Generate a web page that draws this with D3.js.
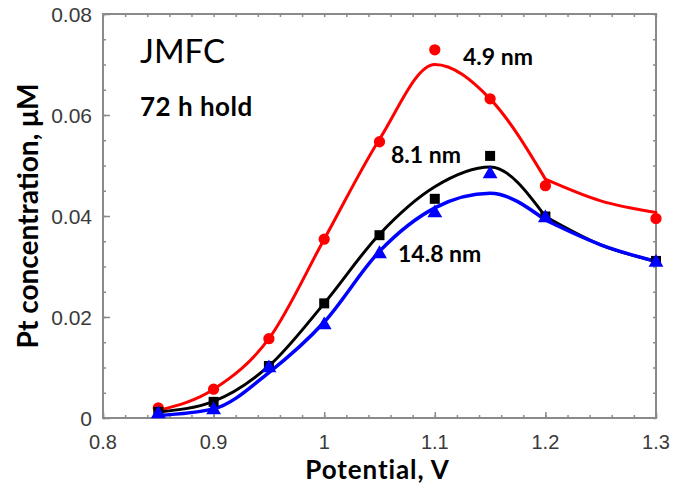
<!DOCTYPE html>
<html>
<head>
<meta charset="utf-8">
<script src="https://cdn.jsdelivr.net/npm/d3@7"></script>
<style>
  html, body { margin: 0; padding: 0; background: #fff; }
  svg { display: block; }
</style>
</head>
<body>
<svg id="chart" width="673" height="491"></svg>
<script>
// Measured points: potential (V) vs dissolved Pt (µM) after 72 h hold
const potential = [0.85, 0.9, 0.95, 1.0, 1.05, 1.1, 1.15, 1.2, 1.3];
const pt49  = [0.0020, 0.0057, 0.0157, 0.0354, 0.0547, 0.0729, 0.0632, 0.0460, 0.0395];
const pt81  = [0.0012, 0.0032, 0.0103, 0.0227, 0.0362, 0.0434, 0.0519, 0.0399, 0.0311];
const pt148 = [0.0008, 0.0016, 0.0099, 0.0184, 0.0325, 0.0406, 0.0483, 0.0396, 0.0308];

// Fitted trend curves, sampled along the potential axis
const fitPotential = [0.85, 0.9, 0.95, 1.0, 1.05, 1.1, 1.15, 1.2, 1.25, 1.3];
const fit49  = [0.0015, 0.0057, 0.0157, 0.0354, 0.0552, 0.0700, 0.0632, 0.0473, 0.0430, 0.0407];
const fit81  = [0.0012, 0.0033, 0.0103, 0.0227, 0.0364, 0.0458, 0.0497, 0.0399, 0.0343, 0.0310];
const fit148 = [0.0005, 0.0018, 0.0090, 0.0190, 0.0330, 0.0416, 0.0445, 0.0392, 0.0343, 0.0310];
const fitBreak = 1.2;   // the fits change regime here

const xTicks = [0.8, 0.9, 1.0, 1.1, 1.2, 1.3];
const xTickLabels = ["0.8", "0.9", "1", "1.1", "1.2", "1.3"];
const yTicks = [0, 0.02, 0.04, 0.06, 0.08];
const yTickLabels = ["0", "0.02", "0.04", "0.06", "0.08"];

const seriesLabels = ["4.9 nm", "8.1 nm", "14.8 nm"];

const svg = d3.select("#chart");
const m = { left: 103, top: 14, right: 656, bottom: 418 };

const x = d3.scaleLinear().domain([0.8, 1.3]).range([m.left, m.right]);
const y = d3.scaleLinear().domain([0, 0.08]).range([m.bottom, m.top]);

const axisColor = "#8a8a8a";
const tickFont = "'Liberation Sans', Arial, sans-serif";
const labelFont = "Lato, 'Open Sans', sans-serif";

// Frame with inward ticks on all four sides
const minorX = d3.range(0.8, 1.3001, 0.02);
const minorY = d3.range(0, 0.08001, 0.005);

function styleAxis(g) {
  g.select(".domain").remove();
  g.selectAll(".tick line").attr("stroke", axisColor).attr("stroke-width", 1.5);
  g.selectAll(".tick text").remove();
}

svg.append("g").attr("transform", `translate(0,${m.bottom})`)
  .call(d3.axisBottom(x).tickValues(minorX).tickSizeInner(-3).tickSizeOuter(0)).call(styleAxis);
svg.append("g").attr("transform", `translate(0,${m.bottom})`)
  .call(d3.axisBottom(x).tickValues(xTicks).tickSizeInner(-6).tickSizeOuter(0)).call(styleAxis);
svg.append("g").attr("transform", `translate(0,${m.top})`)
  .call(d3.axisTop(x).tickValues(minorX).tickSizeInner(-3).tickSizeOuter(0)).call(styleAxis);
svg.append("g").attr("transform", `translate(${m.left},0)`)
  .call(d3.axisLeft(y).tickValues(minorY).tickSizeInner(-3).tickSizeOuter(0)).call(styleAxis);
svg.append("g").attr("transform", `translate(${m.left},0)`)
  .call(d3.axisLeft(y).tickValues(yTicks).tickSizeInner(-7).tickSizeOuter(0)).call(styleAxis);
svg.append("g").attr("transform", `translate(${m.right},0)`)
  .call(d3.axisRight(y).tickValues(minorY).tickSizeInner(-3).tickSizeOuter(0)).call(styleAxis);

svg.append("rect")
  .attr("x", m.left).attr("y", m.top)
  .attr("width", m.right - m.left).attr("height", m.bottom - m.top)
  .attr("fill", "none").attr("stroke", axisColor).attr("stroke-width", 2);

// Tick labels
svg.append("g").selectAll("text").data(xTicks).join("text")
  .attr("x", d => x(d)).attr("y", m.bottom + 31)
  .attr("text-anchor", "middle")
  .attr("font-family", tickFont).attr("font-size", 20).attr("fill", "#3a3a3a")
  .text((d, i) => xTickLabels[i]);

svg.append("g").selectAll("text").data(yTicks).join("text")
  .attr("x", m.left - 11).attr("y", d => y(d) + 8)
  .attr("text-anchor", "end")
  .attr("font-family", tickFont).attr("font-size", 21).attr("fill", "#3a3a3a")
  .text((d, i) => yTickLabels[i]);

// Axis titles
svg.append("text")
  .attr("x", (m.left + m.right) / 2 - 2).attr("y", 479)
  .attr("text-anchor", "middle")
  .attr("font-family", labelFont).attr("font-weight", "bold").attr("font-size", 26)
  .attr("letter-spacing", 0.9)
  .attr("fill", "#000")
  .text("Potential, V");

svg.append("text")
  .attr("transform", `translate(38,${(m.top + m.bottom) / 2}) rotate(-90)`)
  .attr("text-anchor", "middle")
  .attr("font-family", labelFont).attr("font-weight", "bold").attr("font-size", 28)
  .attr("fill", "#000")
  .text("Pt concentration, \u03BCM");

// Fitted curves, drawn in two pieces around the break point
const line = d3.line().x(d => x(d[0])).y(d => y(d[1])).curve(d3.curveMonotoneX);

const series = [
  { fit: fit49,  pts: pt49,  color: "#ff0000", width: 3,   symbol: d3.symbolCircle,   size: 100 },
  { fit: fit81,  pts: pt81,  color: "#000000", width: 3,   symbol: d3.symbolSquare,   size: 100 },
  { fit: fit148, pts: pt148, color: "#0000ff", width: 3.5, symbol: d3.symbolTriangle, size: 95 }
];

series.forEach(s => {
  const pairs = fitPotential.map((p, i) => [p, s.fit[i]]);
  const low = pairs.filter(d => d[0] <= fitBreak + 1e-9);
  const high = pairs.filter(d => d[0] >= fitBreak - 1e-9);
  [low, high].forEach(seg => {
    svg.append("path").datum(seg)
      .attr("d", line)
      .attr("fill", "none")
      .attr("stroke", s.color)
      .attr("stroke-width", s.width)
      .attr("stroke-linejoin", "round")
      .attr("stroke-linecap", "round");
  });
});

// Markers
series.forEach(s => {
  svg.append("g").selectAll("path").data(potential.map((p, i) => [p, s.pts[i]])).join("path")
    .attr("transform", d => `translate(${x(d[0])},${y(d[1])})`)
    .attr("d", d3.symbol().type(s.symbol).size(s.size))
    .attr("fill", s.color);
});

// Annotations
svg.append("text")
  .attr("x", 140).attr("y", 63)
  .attr("font-family", labelFont).attr("font-size", 33).attr("fill", "#000")
  .text("JMFC");

svg.append("text")
  .attr("x", 140).attr("y", 116)
  .attr("font-family", labelFont).attr("font-weight", "bold").attr("font-size", 26)
  .attr("letter-spacing", 0.5)
  .attr("fill", "#000")
  .text("72 h hold");

const labelPos = [[463, 65], [391, 163], [398, 262]];
svg.append("g").selectAll("text").data(seriesLabels).join("text")
  .attr("x", (d, i) => labelPos[i][0]).attr("y", (d, i) => labelPos[i][1])
  .attr("font-family", labelFont).attr("font-weight", "bold").attr("font-size", 23)
  .attr("fill", "#000")
  .text(d => d);
</script>
</body>
</html>
